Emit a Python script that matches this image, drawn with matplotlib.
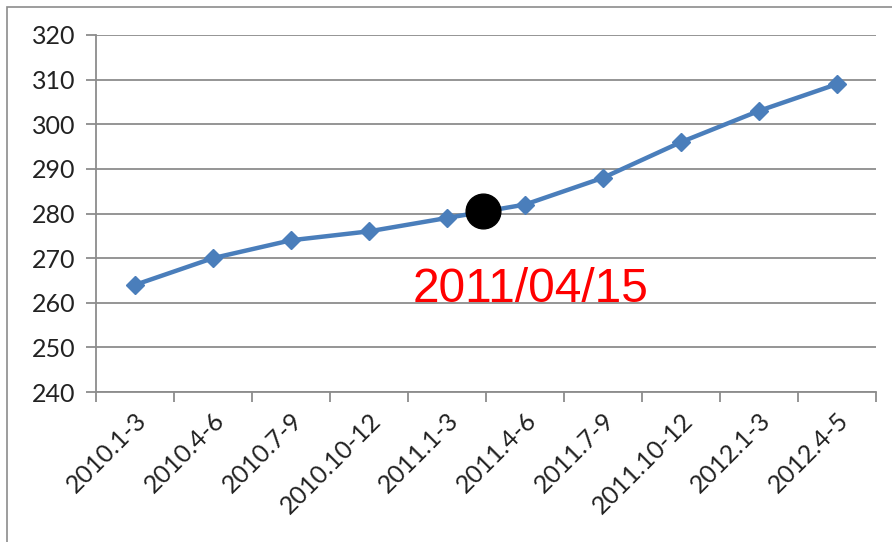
import matplotlib
matplotlib.use("Agg")
import matplotlib.pyplot as plt
from matplotlib.patches import Rectangle

categories = ["2010.1-3", "2010.4-6", "2010.7-9", "2010.10-12", "2011.1-3",
              "2011.4-6", "2011.7-9", "2011.10-12", "2012.1-3", "2012.4-5"]
values = [264, 270, 274, 276, 279, 282, 288, 296, 303, 309]
marker_x = 4.46
marker_y = 280.6
annotation = "2011/04/15"
yticks = [240, 250, 260, 270, 280, 290, 300, 310, 320]

W, H = 892, 542
fig = plt.figure(figsize=(W / 100, H / 100), dpi=100)
fig.patch.set_facecolor("white")

# outer border
fig.patches.append(Rectangle((7 / W, -0.05), 1.2, (H - 7) / H + 0.05,
                             transform=fig.transFigure, fill=False,
                             edgecolor="#8c8c8c", linewidth=1.2))

ax = fig.add_axes([96 / W, 1 - 392 / H, (876 - 96) / W, (392 - 35) / H])
x = list(range(len(categories)))
ax.plot(x, values, color="#4A7EBB", linewidth=3.2, marker="D",
        markersize=9, markerfacecolor="#4A7EBB", markeredgecolor="#4A7EBB",
        zorder=3)
ax.plot([marker_x], [marker_y], marker="o", color="black", markersize=25,
        linestyle="none", zorder=4)
ax.text(3.56, 260.2, annotation, color="red", fontsize=34.5,
        family="Liberation Sans", va="baseline", ha="left", zorder=5)

ax.set_xlim(-0.5, len(categories) - 0.5)
ax.set_ylim(240, 320)
ax.set_yticks(yticks)
ax.grid(axis="y", color="#8c8c8c", linewidth=1.3)
ax.set_axisbelow(True)

ax.set_xticks([i - 0.5 for i in range(len(categories) + 1)])
ax.set_xticklabels([])
ax.set_xticks(x, minor=True)
ax.set_xticklabels(categories, minor=True, rotation=45, ha="right",
                   rotation_mode="anchor", fontsize=18, family="Lato",
                   color="#222222")
ax.tick_params(axis="x", which="major", length=7, color="#8c8c8c", width=1.3)
ax.tick_params(axis="x", which="minor", length=0, pad=12)
ax.tick_params(axis="y", length=7, color="#8c8c8c", width=1.3, pad=8,
               labelsize=18, labelcolor="#222222")
for lab in ax.get_yticklabels():
    lab.set_family("Lato")

for s in ["top", "right"]:
    ax.spines[s].set_visible(False)
for s in ["left", "bottom"]:
    ax.spines[s].set_color("#8c8c8c")
    ax.spines[s].set_linewidth(1.3)

fig.savefig("out.png", dpi=100)
